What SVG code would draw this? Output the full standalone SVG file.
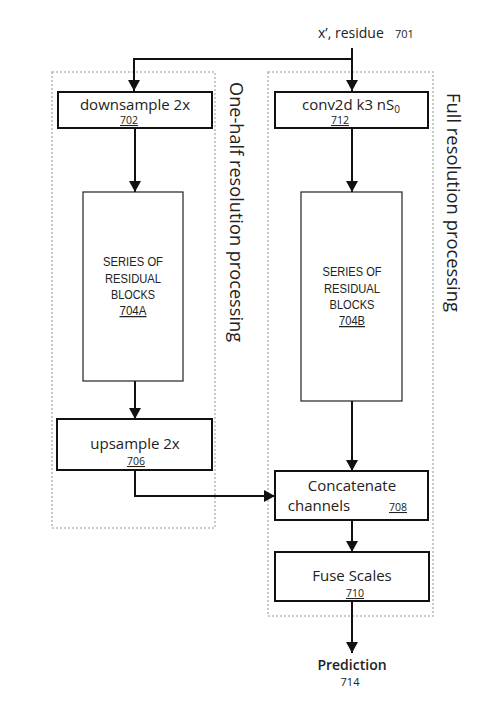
<svg xmlns="http://www.w3.org/2000/svg" width="499" height="705" viewBox="0 0 499 705">
<style>
.cont{fill:none;stroke:#b8b8b8;stroke-width:1.5;stroke-dasharray:2 2}
.box{fill:#fff;stroke:#111;stroke-width:2}
.tall{fill:#fff;stroke:#222;stroke-width:1.2}
.lbl{font-family:"Open Sans","Liberation Sans",sans-serif;font-size:15px;fill:#222;text-anchor:middle}
.num{font-family:"Open Sans","Liberation Sans",sans-serif;font-size:10.5px;fill:#222;text-anchor:middle;text-decoration:underline}
.ser{font-family:"Liberation Sans",Arial,sans-serif;font-size:12.5px;fill:#222;text-anchor:middle}
.rot{font-family:"Open Sans","Liberation Sans",sans-serif;font-size:18px;fill:#222}
.conn{fill:none;stroke:#111;stroke-width:2}
</style>
<defs>
<marker id="arr" markerUnits="userSpaceOnUse" markerWidth="12" markerHeight="12" viewBox="0 0 12 12" refX="11" refY="6" orient="auto">
<path d="M0,0 L11,6 L0,12 Z" fill="#111"/>
</marker>
</defs>
<g id="containers">
<rect class="cont" x="52" y="72" width="163" height="456"/>
<rect class="cont" x="268" y="72" width="165" height="544"/>
<text class="rot" transform="translate(230,82) rotate(90)" textLength="260" lengthAdjust="spacingAndGlyphs">One-half resolution processing</text>
<text class="rot" transform="translate(447,93) rotate(90)" textLength="219" lengthAdjust="spacingAndGlyphs">Full resolution processing</text>
</g>
<g id="connectors">
<path class="conn" d="M352,48 V91" marker-end="url(#arr)"/>
<path class="conn" d="M352,59 H134 V91" marker-end="url(#arr)"/>
<path class="conn" d="M135,128 V192" marker-end="url(#arr)"/>
<path class="conn" d="M135,381 V419" marker-end="url(#arr)"/>
<path class="conn" d="M135,470 V496 H275" marker-end="url(#arr)"/>
<path class="conn" d="M352,128 V192" marker-end="url(#arr)"/>
<path class="conn" d="M352,401 V471" marker-end="url(#arr)"/>
<path class="conn" d="M352,520 V552" marker-end="url(#arr)"/>
<path class="conn" d="M352,601 V653" marker-end="url(#arr)"/>
</g>
<g id="input">
<text x="318" y="38" font-family="Open Sans, Liberation Sans, sans-serif" font-size="14" fill="#222">x’, residue</text>
<text x="395" y="38" font-family="Open Sans, Liberation Sans, sans-serif" font-size="11" fill="#222">701</text>
</g>
<g id="node702">
<rect class="box" x="58" y="92" width="154" height="36"/>
<text class="lbl" x="135" y="110">downsample 2x</text>
<text class="num" x="129" y="124">702</text>
</g>
<g id="node712">
<rect class="box" x="275" y="92" width="153" height="36"/>
<text class="lbl" x="351" y="110">conv2d k3 nS<tspan font-size="10" dy="3">0</tspan></text>
<text class="num" x="340" y="124">712</text>
</g>
<g id="node704A">
<rect class="tall" x="83" y="192" width="100" height="189"/>
<text class="ser" x="133" y="266" textLength="60" lengthAdjust="spacingAndGlyphs">SERIES OF</text>
<text class="ser" x="133" y="282.5" textLength="56" lengthAdjust="spacingAndGlyphs">RESIDUAL</text>
<text class="ser" x="133" y="298.5" textLength="44" lengthAdjust="spacingAndGlyphs">BLOCKS</text>
<text class="ser" x="133" y="315" textLength="27" lengthAdjust="spacingAndGlyphs" text-decoration="underline">704A</text>
</g>
<g id="node704B">
<rect class="tall" x="301" y="192" width="101" height="209"/>
<text class="ser" x="352" y="276" textLength="59" lengthAdjust="spacingAndGlyphs">SERIES OF</text>
<text class="ser" x="352" y="292.5" textLength="56" lengthAdjust="spacingAndGlyphs">RESIDUAL</text>
<text class="ser" x="352" y="308.5" textLength="45" lengthAdjust="spacingAndGlyphs">BLOCKS</text>
<text class="ser" x="352" y="325" textLength="26" lengthAdjust="spacingAndGlyphs" text-decoration="underline">704B</text>
</g>
<g id="node706">
<rect class="box" x="57" y="419" width="155" height="51"/>
<text class="lbl" x="135" y="449">upsample 2x</text>
<text class="num" x="136" y="465">706</text>
</g>
<g id="node708">
<rect class="box" x="275" y="471" width="153" height="49"/>
<text class="lbl" x="352" y="491">Concatenate</text>
<text class="lbl" x="319" y="511" text-anchor="start">channels</text>
<text class="num" x="398" y="511" text-anchor="start">708</text>
</g>
<g id="node710">
<rect class="box" x="275" y="552" width="154" height="49"/>
<text class="lbl" x="352" y="581">Fuse Scales</text>
<text class="num" x="355" y="597">710</text>
</g>
<g id="node714">
<text x="352" y="670" font-family="Open Sans, Liberation Sans, sans-serif" font-size="14" font-weight="600" fill="#222" text-anchor="middle">Prediction</text>
<text x="350" y="686" font-family="Open Sans, Liberation Sans, sans-serif" font-size="11" fill="#222" text-anchor="middle">714</text>
</g>
</svg>
